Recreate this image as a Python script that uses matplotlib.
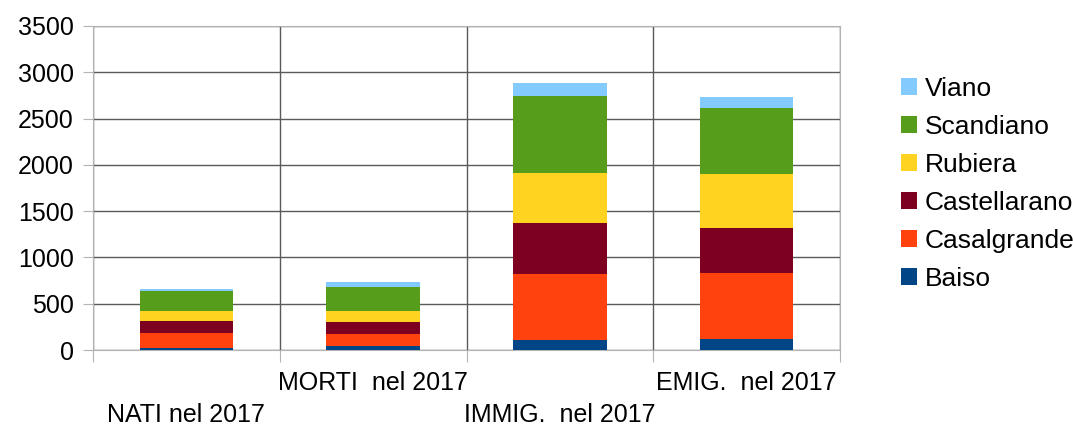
import matplotlib.pyplot as plt
from matplotlib.patches import Patch
import numpy as np

plt.rcParams['font.family'] = ['Liberation Sans', 'DejaVu Sans']

categories = ["NATI nel 2017", "MORTI  nel 2017", "IMMIG.  nel 2017", "EMIG.  nel 2017"]
comuni = ["Baiso", "Casalgrande", "Castellarano", "Rubiera", "Scandiano", "Viano"]
baiso = [25, 43, 108, 122]
casalgrande = [161, 133, 714, 710]
castellarano = [130, 126, 546, 482]
rubiera = [104, 121, 549, 592]
scandiano = [219, 259, 829, 704]
viano = [18, 50, 140, 126]
series = [baiso, casalgrande, castellarano, rubiera, scandiano, viano]
colors = ["#004586", "#ff420e", "#7e0021", "#ffd320", "#579d1c", "#83caff"]

fig = plt.figure(figsize=(10.73, 4.25), dpi=100)
ax = fig.add_axes([93/1073, 1-350/425, 747/1073, 324/425])

x = np.arange(len(categories))
bottom = np.zeros(len(categories))
for vals, c in zip(series, colors):
    ax.bar(x, vals, 0.5, bottom=bottom, color=c, zorder=3)
    bottom += np.array(vals)

ax.set_xlim(-0.5, len(categories) - 0.5)
ax.set_ylim(0, 3500)
ax.set_yticks(range(0, 3501, 500))
ax.tick_params(axis='y', labelsize=18, length=7.5, color='#b3b3b3', pad=6.5)

# category boundaries: vertical grid and ticks
ax.set_xticks(np.arange(-0.5, len(categories)))
ax.set_xticklabels([])
ax.tick_params(axis='x', length=8.5, color='#b3b3b3')
ax.grid(True, axis='both', color='#5a5a5a', linewidth=1, zorder=0)

# staggered category labels
for i, lab in enumerate(categories):
    ax.annotate(lab, xy=(i, 0), xycoords=('data', 'axes fraction'),
                xytext=(0, -15 if i % 2 == 1 else -38), textcoords='offset points',
                ha='center', va='top', fontsize=18)

for s in ax.spines.values():
    s.set_color('#b3b3b3')

handles = [Patch(facecolor=c) for c in colors][::-1]
labels = comuni[::-1]
fig.legend(handles, labels, loc='center left', bbox_to_anchor=(901/1073, 1-184/425),
           frameon=False, fontsize=19, handlelength=0.6, handleheight=0.6,
           handletextpad=0.3, labelspacing=0.53, borderpad=0, borderaxespad=0)

fig.savefig("out.png", dpi=100)
